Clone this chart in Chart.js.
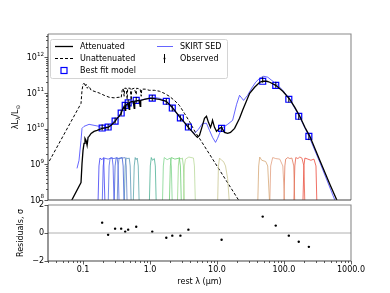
<!DOCTYPE html>
<html>
<head>
<meta charset="utf-8">
<script src="https://cdn.jsdelivr.net/npm/chart.js@4.4.1/dist/chart.umd.min.js"></script>
<style>
  html, body { margin: 0; padding: 0; background: #fff; }
  #wrap { position: relative; width: 390px; height: 293px; }
  #wrap canvas { position: absolute; left: 0; top: 0; }
</style>
</head>
<body>
<div id="wrap">
  <canvas id="sed" width="390" height="293"></canvas>
  <canvas id="res" width="390" height="293"></canvas>
</div>
<script>
// ---- data (rest wavelength in micron, luminosity in L_sun) ----
const unattWl = [0.0289, 0.0933, 0.0966, 0.100, 0.1035, 0.107, 0.111, 0.115, 0.123, 0.132, 0.146, 0.174, 0.207, 0.245, 0.291, 0.346, 0.371,
  0.384, 0.397, 0.411, 0.418, 0.441, 0.456, 0.464, 0.506, 0.524, 0.533, 0.581, 0.622, 0.632, 0.714, 0.739, 0.752, 0.849, 0.975,
  1.16, 1.38, 1.63, 1.94, 2.31, 2.74, 3.26, 3.87, 4.76, 5.47, 25.8];
const unattL = [9.3e8, 5.1e10, 1.19e11, 1.75e11, 1.87e11, 1.54e11, 1.75e11, 1.36e11, 1.54e11, 1.19e11, 1.12e11, 1.0e11, 8.6e10, 7.6e10, 7.3e10, 7.6e10, 7.4e10,
  1.19e11, 1.36e11, 8.1e10, 1.36e11, 1.36e11, 6.65e10, 1.36e11, 1.36e11, 6.2e10, 1.28e11, 1.36e11, 9.0e10, 1.36e11, 1.28e11, 8.1e10, 1.28e11, 1.28e11, 1.19e11,
  1.19e11, 1.12e11, 9.8e10, 8.1e10, 6.2e10, 4.5e10, 2.69e10, 1.6e10, 7.87e9, 5.35e9, 5.4e7];

const attWl = [0.064, 0.0933, 0.0966, 0.100, 0.1035, 0.107, 0.111, 0.115, 0.119, 0.123, 0.132, 0.146, 0.162, 0.193, 0.237, 0.263, 0.301, 0.323,
  0.346, 0.371, 0.384, 0.411, 0.426, 0.433, 0.472, 0.489, 0.497, 0.561, 0.581, 0.591, 0.69, 0.714, 0.726, 0.82, 0.975, 1.08, 1.38,
  1.75, 2.15, 2.74, 3.26, 3.74, 4.76, 5.10, 5.47, 6.07, 6.50, 6.96, 7.45, 8.0, 8.28, 8.57, 9.18, 9.84, 10.9, 11.7, 12.9, 14.4, 15.9,
  18.3, 21.7, 24.1, 27.7, 30.7, 36.4, 43.4, 48.1, 55.3, 61.2, 75.3, 96.0, 122, 145, 172, 205, 243, 343, 485, 618, 733];
const attL = [8e7, 3.1e8, 1.06e9, 2.46e9, 3.86e9, 5.35e9, 4.69e9, 3.4e9, 5.7e9, 6.08e9, 7.38e9, 8.4e9, 8.96e9, 1.02e10, 1.09e10, 1.24e10, 1.6e10, 1.95e10,
  2.22e10, 2.69e10, 3.27e10, 4.2e10, 3.27e10, 4.5e10, 5.1e10, 3.5e10, 5.5e10, 5.85e10, 3.7e10, 5.85e10, 6.2e10, 4.2e10, 6.2e10, 6.65e10, 7.1e10, 7.1e10, 6.65e10,
  5.85e10, 3.96e10, 2.22e10, 1.5e10, 1.09e10, 6.49e9, 5.7e9, 6.49e9, 1.24e10, 1.95e10, 2.22e10, 1.5e10, 1.09e10, 1.32e10, 1.71e10, 1.09e10, 8.4e9, 1.02e10, 1.09e10, 7.87e9, 7.38e9, 7.87e9,
  1.02e10, 1.95e10, 3.27e10, 6.2e10, 9.8e10, 1.45e11, 2.0e11, 2.13e11, 2.13e11, 2.0e11, 1.64e11, 1.12e11, 6.65e10, 3.96e10, 2.22e10, 1.09e10, 6.08e9, 1.29e9, 2.72e8, 9.7e7, 4.5e7];

const skirtWl = [0.0813, 0.0871, 0.0933, 0.0966, 0.1035, 0.123, 0.146, 0.174, 0.193, 0.237, 0.301, 0.346, 0.371, 0.411, 0.456, 0.581, 0.82,
  1.08, 1.38, 1.75, 2.15, 2.84, 3.74, 4.6, 5.28, 6.07, 6.96, 7.72, 8.57, 9.5, 10.2, 11.7, 14.4, 17.1, 19.6, 21.7, 24.9, 28.6,
  32.9, 37.7, 43.4, 49.8, 57.2, 65.3, 78.0, 96.0, 122, 172, 243, 343, 577, 684];
const skirtL = [7.7e8, 1.29e9, 4.69e9, 1.02e10, 1.16e10, 1.32e10, 1.24e10, 1.16e10, 1.02e10, 1.16e10, 1.71e10, 2.22e10, 2.9e10, 4.2e10, 5.1e10, 5.85e10, 6.65e10,
  7.6e10, 7.1e10, 5.85e10, 3.7e10, 1.95e10, 1.09e10, 7.38e9, 9.55e9, 1.41e10, 1.41e10, 8.96e9, 5.7e9, 4.12e9, 5.35e9, 1.02e10, 1.32e10, 1.71e10, 4.8e10, 8.6e10, 6.2e10, 8.6e10,
  1.36e11, 2.0e11, 2.59e11, 2.94e11, 2.77e11, 2.27e11, 1.75e11, 1.19e11, 6.65e10, 2.08e10, 5.35e9, 1.13e9, 9.7e7, 4.5e7];

const bandWl = [0.193, 0.237, 0.301, 0.371, 0.426, 0.472, 0.622, 1.08, 1.75, 2.15, 2.84, 3.74, 11.7, 48.1, 75.3, 118, 166, 235];
const bestL = [1.04e10, 1.11e10, 1.63e10, 2.74e10, 4.5e10, 5.3e10, 6.2e10, 7.2e10, 5.85e10, 3.79e10, 1.99e10, 1.11e10, 1.02e10, 2.13e11, 1.64e11, 6.65e10, 2.22e10, 6.08e9];
const obsL = [1.08e10, 1.10e10, 1.68e10, 2.8e10, 4.55e10, 5.4e10, 6.4e10, 7.25e10, 5.7e10, 3.72e10, 1.96e10, 1.13e10, 0.99e10, 2.35e11, 1.70e11, 6.6e10, 2.15e10, 5.8e9];
const resid = [0.74, -0.12, 0.31, 0.31, 0.09, 0.24, 0.45, 0.09, -0.34, -0.19, -0.19, 0.24, -0.48, 1.17, 0.53, -0.19, -0.63, -0.99];

// filter transmission curves (scaled into the plot)
const filterWl = [
  [0.167, 0.173, 0.179, 0.192, 0.203, 0.213],
  [0.193, 0.2, 0.207, 0.237, 0.272, 0.281, 0.291],
  [0.237, 0.245, 0.254, 0.29, 0.323, 0.334, 0.346],
  [0.291, 0.301, 0.312, 0.35, 0.384, 0.397, 0.411],
  [0.323, 0.334, 0.346, 0.39, 0.426, 0.441, 0.456],
  [0.411, 0.426, 0.441, 0.47, 0.489, 0.506, 0.524],
  [0.561, 0.581, 0.601, 0.62, 0.644, 0.667, 0.69],
  [0.975, 1.01, 1.045, 1.09, 1.16, 1.2, 1.24],
  [1.53, 1.58, 1.63, 1.8, 2.01, 2.08, 2.15],
  [1.94, 2.01, 2.08, 2.35, 2.74, 2.84, 2.94],
  [2.56, 2.65, 2.74, 2.9, 3.04, 3.15, 3.26],
  [3.15, 3.26, 3.38, 3.8, 4.45, 4.6, 4.76],
  [10.2, 10.5, 10.9, 11.7, 12.5, 13.4, 14.4, 15.4],
  [40.5, 41.9, 43.4, 46.5, 53.3, 57.1, 61.2],
  [61.2, 63.3, 67.8, 75.3, 86.4, 96, 103],
  [99.3, 103, 106, 114, 122, 131, 140, 145],
  [140, 145, 150, 161, 172, 185, 198, 205],
  [191, 198, 205, 227, 252, 280, 300, 310]
];
const filterL = [
  [7e7, 9e8, 1.5e9, 1.35e9, 1.55e9, 7e7],
  [7e7, 9e8, 1.5e9, 1.4e9, 1.55e9, 9e8, 7e7],
  [7e7, 9e8, 1.5e9, 1.45e9, 1.55e9, 9e8, 7e7],
  [7e7, 9e8, 1.5e9, 1.45e9, 1.55e9, 9e8, 7e7],
  [7e7, 9e8, 1.5e9, 1.5e9, 1.55e9, 9e8, 7e7],
  [7e7, 9e8, 1.5e9, 1.45e9, 1.5e9, 9e8, 7e7],
  [7e7, 9e8, 1.55e9, 1.35e9, 1.5e9, 9e8, 7e7],
  [7e7, 9e8, 1.55e9, 1.3e9, 1.45e9, 9e8, 7e7],
  [7e7, 9e8, 1.55e9, 1.35e9, 1.5e9, 9e8, 7e7],
  [7e7, 9e8, 1.55e9, 1.4e9, 1.5e9, 9e8, 7e7],
  [7e7, 9e8, 1.55e9, 1.4e9, 1.5e9, 9e8, 7e7],
  [7e7, 9e8, 1.4e9, 1.6e9, 1.5e9, 9e8, 7e7],
  [7e7, 9e8, 1.5e9, 1.3e9, 1.2e9, 9e8, 4e8, 7e7],
  [7e7, 9e8, 1.6e9, 1.3e9, 1.2e9, 9e8, 7e7],
  [7e7, 9e8, 1.55e9, 1.45e9, 1.4e9, 9e8, 7e7],
  [7e7, 9e8, 1.4e9, 1.55e9, 1.45e9, 1.5e9, 9e8, 7e7],
  [7e7, 9e8, 1.55e9, 1.45e9, 1.6e9, 1.5e9, 9e8, 7e7],
  [7e7, 9e8, 1.5e9, 1.4e9, 1.3e9, 1.4e9, 9e8, 7e7]
];
const filterColors = ['#3c3cf5', '#4b57f0', '#5368e8', '#3f5fd6', '#5f82c8', '#5a98b8', '#5aa6a8', '#4bb093', '#80d68f',
  '#6cce72', '#97d889', '#b9d99a', '#c9c792', '#d6a877', '#e2a080', '#e07a5a', '#e85c48', '#ec4a3c'];

const xTickVals = [0.1, 1, 10, 100, 1000];
const xTickLabels = ['0.1', '1.0', '10.0', '100.0', '1000.0'];
const yTickVals = [1e8, 1e9, 1e10, 1e11, 1e12];
const yTickExps = ['8', '9', '10', '11', '12'];
const resTickVals = [-2, 0, 2];
const legendLabels = ['Attenuated', 'Unattenuated', 'Best fit model', 'SKIRT SED', 'Observed'];

const FONT = 'DejaVu Sans';
const pts = (xs, ys) => xs.map((x, i) => ({ x: x, y: ys[i] }));

function logMinors(lo, hi) {
  const out = [];
  for (let e = Math.floor(Math.log10(lo)); e <= Math.ceil(Math.log10(hi)); e++) {
    for (let k = 2; k <= 9; k++) {
      const v = k * Math.pow(10, e);
      if (v >= lo && v <= hi) out.push(v);
    }
  }
  return out;
}

function spines(chart) {
  const a = chart.chartArea, ctx = chart.ctx;
  ctx.save();
  ctx.lineWidth = 1.1;
  ctx.strokeStyle = '#8a8a8a';
  ctx.beginPath();
  ctx.moveTo(a.left, a.top); ctx.lineTo(a.right, a.top); ctx.lineTo(a.right, a.bottom);
  ctx.stroke();
  ctx.strokeStyle = '#444';
  ctx.beginPath();
  ctx.moveTo(a.left, a.top); ctx.lineTo(a.left, a.bottom); ctx.lineTo(a.right, a.bottom);
  ctx.stroke();
  ctx.restore();
}

function tickMarks(chart, id, majors, minors) {
  const s = chart.scales[id], a = chart.chartArea, ctx = chart.ctx;
  ctx.save();
  ctx.strokeStyle = '#333';
  ctx.lineWidth = 0.8;
  const one = (v, len) => {
    const p = Math.round(s.getPixelForValue(v)) + 0.5;
    ctx.beginPath();
    if (s.isHorizontal()) { ctx.moveTo(p, a.bottom); ctx.lineTo(p, a.bottom + len); }
    else { ctx.moveTo(a.left, p); ctx.lineTo(a.left - len, p); }
    ctx.stroke();
  };
  majors.forEach(v => one(v, 3.5));
  minors.forEach(v => one(v, 2));
  ctx.restore();
}

// "10" with a raised exponent, like matplotlib's log labels
function powerLabels(chart) {
  const s = chart.scales.y, ctx = chart.ctx;
  ctx.save();
  ctx.fillStyle = '#000';
  ctx.textBaseline = 'middle';
  yTickVals.forEach((v, i) => {
    const p = s.getPixelForValue(v);
    ctx.font = '5.6px "' + FONT + '"';
    const we = ctx.measureText(yTickExps[i]).width;
    ctx.fillText(yTickExps[i], 44 - we, p - 3);
    ctx.font = '8px "' + FONT + '"';
    const wb = ctx.measureText('10').width;
    ctx.fillText('10', 44 - we - wb, p + 0.5);
  });
  ctx.restore();
}

function drawLegend(ctx) {
  ctx.save();
  ctx.fillStyle = 'rgba(255,255,255,0.85)';
  ctx.strokeStyle = '#d4d4d4';
  ctx.lineWidth = 1;
  ctx.beginPath();
  ctx.roundRect(50.5, 39.5, 177, 39, 2);
  ctx.fill(); ctx.stroke();

  ctx.font = '8px "' + FONT + '"';
  ctx.textBaseline = 'middle';
  ctx.fillStyle = '#000';
  const rows = [46.5, 58.5, 70.5];
  // Attenuated
  ctx.strokeStyle = '#000'; ctx.lineWidth = 1.3;
  ctx.beginPath(); ctx.moveTo(55, rows[0]); ctx.lineTo(73, rows[0]); ctx.stroke();
  ctx.fillText(legendLabels[0], 80, rows[0]);
  // Unattenuated
  ctx.lineWidth = 1; ctx.setLineDash([3, 2]);
  ctx.beginPath(); ctx.moveTo(55, rows[1]); ctx.lineTo(73, rows[1]); ctx.stroke();
  ctx.setLineDash([]);
  ctx.fillText(legendLabels[1], 80, rows[1]);
  // Best fit
  ctx.strokeStyle = '#0000ff'; ctx.lineWidth = 1.2;
  ctx.strokeRect(61, rows[2] - 3, 6, 6);
  ctx.fillText(legendLabels[2], 80, rows[2]);
  // SKIRT
  ctx.strokeStyle = 'rgba(40,40,255,0.8)'; ctx.lineWidth = 0.9;
  ctx.beginPath(); ctx.moveTo(157, rows[0]); ctx.lineTo(173, rows[0]); ctx.stroke();
  ctx.fillText(legendLabels[3], 180, rows[0]);
  // Observed
  ctx.strokeStyle = '#000'; ctx.lineWidth = 1;
  ctx.beginPath(); ctx.moveTo(164.5, rows[1] - 4.5); ctx.lineTo(164.5, rows[1] + 4.5); ctx.stroke();
  ctx.beginPath(); ctx.arc(164.5, rows[1], 1, 0, Math.PI * 2); ctx.fill();
  ctx.fillText(legendLabels[4], 180, rows[1]);
  ctx.restore();
}

function drawRotated(ctx, cx, cy, parts) {
  ctx.save();
  ctx.translate(cx, cy);
  ctx.rotate(-Math.PI / 2);
  ctx.fillStyle = '#000';
  ctx.textBaseline = 'alphabetic';
  let w = 0;
  parts.forEach(p => { ctx.font = p.size + 'px "' + FONT + '"'; w += ctx.measureText(p.t).width; });
  let x = -w / 2;
  parts.forEach(p => {
    ctx.font = p.size + 'px "' + FONT + '"';
    ctx.fillText(p.t, x, 3 + p.dy);
    x += ctx.measureText(p.t).width;
  });
  ctx.restore();
}

const sedDecor = {
  id: 'sedDecor',
  afterDraw(chart) {
    const ctx = chart.ctx;
    spines(chart);
    tickMarks(chart, 'y', yTickVals, logMinors(1e8, 4.5e12));
    powerLabels(chart);
    drawRotated(ctx, 15, 117, [
      { t: '\u03bbL', size: 8, dy: 0 }, { t: '\u03bb', size: 5.6, dy: 2 },
      { t: '/L', size: 8, dy: 0 }, { t: '\u2299', size: 5.6, dy: 2 }
    ]);
    drawLegend(ctx);
  }
};

const resDecor = {
  id: 'resDecor',
  afterDraw(chart) {
    const ctx = chart.ctx;
    spines(chart);
    tickMarks(chart, 'x', xTickVals, logMinors(0.03, 1000));
    tickMarks(chart, 'y', resTickVals, []);
    drawRotated(ctx, 20, 233, [{ t: 'Residuals, \u03c3', size: 8, dy: 0 }]);
    ctx.save();
    ctx.font = '8px "' + FONT + '"';
    ctx.fillStyle = '#000';
    ctx.textAlign = 'center';
    ctx.textBaseline = 'middle';
    ctx.fillText('rest \u03bb (\u03bcm)', 199.5, 282);
    ctx.restore();
  }
};

const lineSet = (data, color, width, dash) => ({
  data: data, showLine: true, borderColor: color, borderWidth: width, borderDash: dash || [],
  pointRadius: 0, fill: false, tension: 0
});

const filterSets = filterWl.map((wl, i) => lineSet(pts(wl, filterL[i]), filterColors[i], 0.8));

new Chart(document.getElementById('sed'), {
  type: 'scatter',
  data: {
    datasets: [
      ...filterSets,
      lineSet(pts(unattWl, unattL), '#000', 1, [3, 2]),
      lineSet(pts(attWl, attL), '#000', 1.3),
      lineSet(pts(skirtWl, skirtL), 'rgba(40,40,255,0.8)', 0.9),
      { data: pts(bandWl, obsL), pointStyle: 'line', rotation: 90, pointRadius: 3, borderColor: '#000', pointBorderWidth: 1 },
      { data: pts(bandWl, bestL), pointStyle: 'rect', pointRadius: 4.2, borderColor: '#0000ff', backgroundColor: 'rgba(0,0,0,0)', pointBorderWidth: 1.2 }
    ]
  },
  options: {
    responsive: false,
    animation: false,
    layout: { padding: { top: 34, right: 39, bottom: 93, left: 0 } },
    plugins: { legend: { display: false }, tooltip: { enabled: false } },
    scales: {
      x: { type: 'logarithmic', min: 0.03, max: 1000, display: false },
      y: {
        type: 'logarithmic', min: 1e8, max: 4.5e12,
        afterBuildTicks: s => { s.ticks = yTickVals.map(v => ({ value: v })); },
        afterFit: s => { s.width = 48; },
        grid: { display: false, drawTicks: false },
        border: { display: false },
        ticks: { display: false }
      }
    }
  },
  plugins: [sedDecor]
});

new Chart(document.getElementById('res'), {
  type: 'scatter',
  data: {
    datasets: [
      lineSet([{ x: 0.03, y: 0 }, { x: 1000, y: 0 }], '#b0b0b0', 1),
      { data: pts(bandWl, resid), pointRadius: 1.2, backgroundColor: '#000', borderWidth: 0 }
    ]
  },
  options: {
    responsive: false,
    animation: false,
    layout: { padding: { top: 205, right: 39, bottom: 0, left: 0 } },
    plugins: { legend: { display: false }, tooltip: { enabled: false } },
    scales: {
      x: {
        type: 'logarithmic', min: 0.03, max: 1000,
        afterBuildTicks: s => { s.ticks = xTickVals.map(v => ({ value: v })); },
        afterFit: s => { s.height = 32; },
        grid: { display: false, drawTicks: false },
        border: { display: false },
        ticks: { padding: 4, maxRotation: 0, autoSkip: false, color: '#000', font: { family: FONT, size: 8 }, callback: (v, i) => xTickLabels[i] }
      },
      y: {
        type: 'linear', min: -2, max: 2,
        afterBuildTicks: s => { s.ticks = resTickVals.map(v => ({ value: v })); },
        afterFit: s => { s.width = 48; },
        grid: { display: false, drawTicks: false },
        border: { display: false },
        ticks: { padding: 4, color: '#000', font: { family: FONT, size: 8 }, callback: v => (v < 0 ? '\u2212' + Math.abs(v) : String(v)) }
      }
    }
  },
  plugins: [resDecor]
});
</script>
</body>
</html>
